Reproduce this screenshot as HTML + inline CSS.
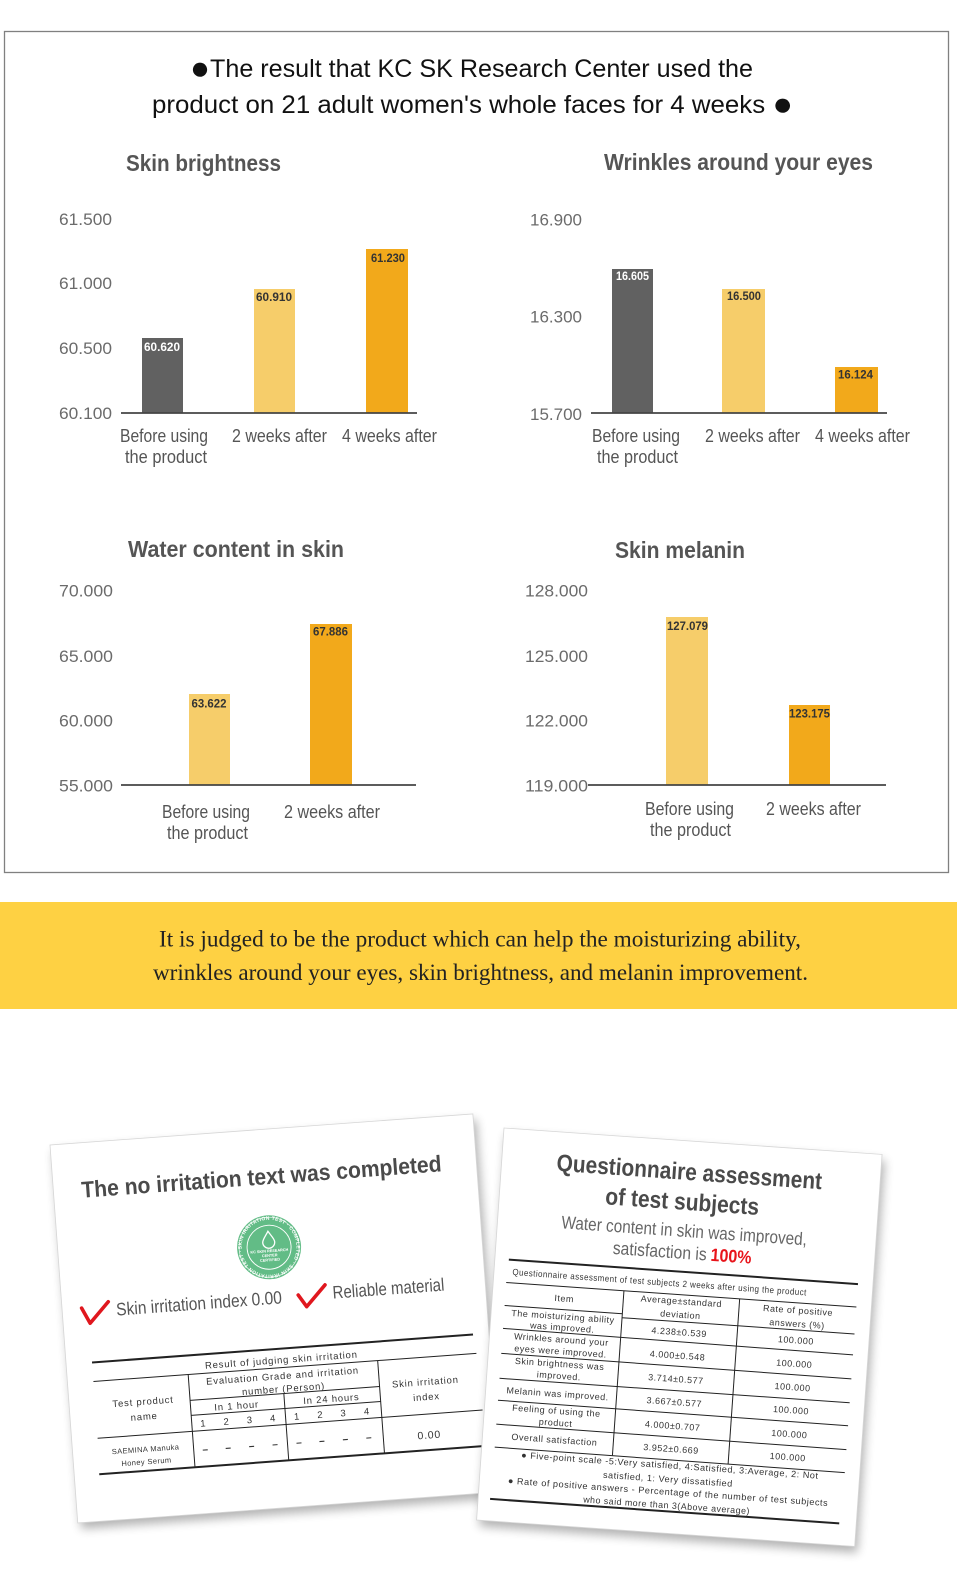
<!DOCTYPE html>
<html>
<head>
<meta charset="utf-8">
<style>
html,body{margin:0;padding:0;background:#fff;}
svg{display:block;}
.s{font-family:"Liberation Sans","NanumGothic",sans-serif;}
.r{font-family:"Liberation Serif","Noto Serif CJK SC",serif;}
</style>
</head>
<body>
<svg width="957" height="1585" viewBox="0 0 957 1585" xmlns="http://www.w3.org/2000/svg">
<defs>
  <filter id="sh" x="-10%" y="-10%" width="125%" height="125%">
    <feGaussianBlur stdDeviation="5"/>
  </filter>
  <path id="sealArc" d="M -27.5 0 A 27.5 27.5 0 1 1 27.5 0 A 27.5 27.5 0 1 1 -27.5 0"/>
</defs>

<rect x="0" y="0" width="957" height="1585" fill="#fff"/>

<!-- outer box -->
<rect x="4.5" y="31.5" width="944" height="841" fill="none" stroke="#808080" stroke-width="1.3"/>

<!-- main title -->
<g class="s" fill="#111" font-size="25">
  <text x="190" y="77" textLength="563" lengthAdjust="spacingAndGlyphs"><tspan font-size="33" dy="2">●</tspan><tspan dy="-2">The result that KC SK Research Center used the</tspan></text>
  <text x="152" y="113" textLength="641" lengthAdjust="spacingAndGlyphs">product on 21 adult women's whole faces for 4 weeks <tspan font-size="33" dy="2">●</tspan></text>
</g>

<!-- ============ Chart 1: Skin brightness ============ -->
<g class="s">
  <text x="126" y="171" font-size="23" font-weight="bold" fill="#555" textLength="155" lengthAdjust="spacingAndGlyphs">Skin brightness</text>
  <g font-size="17" fill="#6b6b6b" text-anchor="end">
    <text x="112" y="225" textLength="53" lengthAdjust="spacingAndGlyphs">61.500</text>
    <text x="112" y="289" textLength="53" lengthAdjust="spacingAndGlyphs">61.000</text>
    <text x="112" y="354" textLength="53" lengthAdjust="spacingAndGlyphs">60.500</text>
    <text x="112" y="419" textLength="53" lengthAdjust="spacingAndGlyphs">60.100</text>
  </g>
  <rect x="142" y="338" width="41" height="75" fill="#616161"/>
  <rect x="254" y="289" width="41" height="124" fill="#F6CD6A"/>
  <rect x="366" y="249" width="42" height="164" fill="#F2A91B"/>
  <line x1="121" y1="413" x2="417" y2="413" stroke="#444" stroke-width="1.8"/>
  <g font-size="11.5" font-weight="bold" text-anchor="middle">
    <text x="162" y="351" fill="#fff" textLength="36" lengthAdjust="spacingAndGlyphs">60.620</text>
    <text x="274" y="301" fill="#333" textLength="36" lengthAdjust="spacingAndGlyphs">60.910</text>
    <text x="388" y="262" fill="#333" textLength="34" lengthAdjust="spacingAndGlyphs">61.230</text>
  </g>
  <g font-size="18" fill="#555" text-anchor="middle">
    <text x="164" y="442" textLength="88" lengthAdjust="spacingAndGlyphs">Before using</text>
    <text x="166" y="463" textLength="82" lengthAdjust="spacingAndGlyphs">the product</text>
    <text x="279.5" y="442" textLength="95" lengthAdjust="spacingAndGlyphs">2 weeks after</text>
    <text x="389.5" y="442" textLength="95" lengthAdjust="spacingAndGlyphs">4 weeks after</text>
  </g>
</g>

<!-- ============ Chart 2: Wrinkles ============ -->
<g class="s">
  <text x="604" y="170" font-size="23" font-weight="bold" fill="#555" textLength="269" lengthAdjust="spacingAndGlyphs">Wrinkles around your eyes</text>
  <g font-size="17" fill="#6b6b6b" text-anchor="end">
    <text x="582" y="225.5" textLength="52" lengthAdjust="spacingAndGlyphs">16.900</text>
    <text x="582" y="322.5" textLength="52" lengthAdjust="spacingAndGlyphs">16.300</text>
    <text x="582" y="420" textLength="52" lengthAdjust="spacingAndGlyphs">15.700</text>
  </g>
  <rect x="612" y="269" width="41" height="144" fill="#616161"/>
  <rect x="722" y="289" width="43" height="124" fill="#F6CD6A"/>
  <rect x="835" y="367" width="43" height="46" fill="#F2A91B"/>
  <line x1="591" y1="413" x2="887" y2="413" stroke="#444" stroke-width="1.8"/>
  <g font-size="11.5" font-weight="bold" text-anchor="middle">
    <text x="632.5" y="280" fill="#fff" textLength="33" lengthAdjust="spacingAndGlyphs">16.605</text>
    <text x="744" y="300" fill="#333" textLength="34" lengthAdjust="spacingAndGlyphs">16.500</text>
    <text x="855.5" y="378.5" fill="#333" textLength="35" lengthAdjust="spacingAndGlyphs">16.124</text>
  </g>
  <g font-size="18" fill="#555" text-anchor="middle">
    <text x="636" y="442" textLength="88" lengthAdjust="spacingAndGlyphs">Before using</text>
    <text x="637.5" y="463" textLength="81" lengthAdjust="spacingAndGlyphs">the product</text>
    <text x="752.5" y="442" textLength="95" lengthAdjust="spacingAndGlyphs">2 weeks after</text>
    <text x="862.5" y="442" textLength="95" lengthAdjust="spacingAndGlyphs">4 weeks after</text>
  </g>
</g>

<!-- ============ Chart 3: Water content ============ -->
<g class="s">
  <text x="128" y="557" font-size="23" font-weight="bold" fill="#555" textLength="216" lengthAdjust="spacingAndGlyphs">Water content in skin</text>
  <g font-size="17" fill="#6b6b6b" text-anchor="end">
    <text x="113" y="596.5" textLength="54" lengthAdjust="spacingAndGlyphs">70.000</text>
    <text x="113" y="662" textLength="54" lengthAdjust="spacingAndGlyphs">65.000</text>
    <text x="113" y="726.5" textLength="54" lengthAdjust="spacingAndGlyphs">60.000</text>
    <text x="113" y="791.5" textLength="54" lengthAdjust="spacingAndGlyphs">55.000</text>
  </g>
  <rect x="189" y="694" width="41" height="91" fill="#F6CD6A"/>
  <rect x="310" y="624" width="42" height="161" fill="#F2A91B"/>
  <line x1="121" y1="785" x2="416" y2="785" stroke="#444" stroke-width="1.8"/>
  <g font-size="11.5" font-weight="bold" text-anchor="middle" fill="#333">
    <text x="209" y="707.5" textLength="35" lengthAdjust="spacingAndGlyphs">63.622</text>
    <text x="330.5" y="635.5" textLength="35" lengthAdjust="spacingAndGlyphs">67.886</text>
  </g>
  <g font-size="18" fill="#555" text-anchor="middle">
    <text x="206" y="818" textLength="88" lengthAdjust="spacingAndGlyphs">Before using</text>
    <text x="207.5" y="839" textLength="81" lengthAdjust="spacingAndGlyphs">the product</text>
    <text x="332" y="818" textLength="96" lengthAdjust="spacingAndGlyphs">2 weeks after</text>
  </g>
</g>

<!-- ============ Chart 4: Skin melanin ============ -->
<g class="s">
  <text x="615" y="558" font-size="23" font-weight="bold" fill="#555" textLength="130" lengthAdjust="spacingAndGlyphs">Skin melanin</text>
  <g font-size="17" fill="#6b6b6b" text-anchor="end">
    <text x="588" y="596.5" textLength="63" lengthAdjust="spacingAndGlyphs">128.000</text>
    <text x="588" y="662" textLength="63" lengthAdjust="spacingAndGlyphs">125.000</text>
    <text x="588" y="726.5" textLength="63" lengthAdjust="spacingAndGlyphs">122.000</text>
    <text x="588" y="791.5" textLength="63" lengthAdjust="spacingAndGlyphs">119.000</text>
  </g>
  <rect x="666" y="617" width="42" height="168" fill="#F6CD6A"/>
  <rect x="789" y="705" width="41" height="80" fill="#F2A91B"/>
  <line x1="588" y1="785" x2="886" y2="785" stroke="#444" stroke-width="1.8"/>
  <g font-size="11.5" font-weight="bold" text-anchor="middle" fill="#333">
    <text x="687.5" y="630" textLength="41" lengthAdjust="spacingAndGlyphs">127.079</text>
    <text x="809.5" y="717.5" textLength="41" lengthAdjust="spacingAndGlyphs">123.175</text>
  </g>
  <g font-size="18" fill="#555" text-anchor="middle">
    <text x="689.5" y="815" textLength="89" lengthAdjust="spacingAndGlyphs">Before using</text>
    <text x="690.5" y="836" textLength="81" lengthAdjust="spacingAndGlyphs">the product</text>
    <text x="813.5" y="815" textLength="95" lengthAdjust="spacingAndGlyphs">2 weeks after</text>
  </g>
</g>

<!-- ============ Yellow band ============ -->
<rect x="0" y="902" width="957" height="107" fill="#FED143"/>
<g class="r" font-size="23" fill="#222">
  <text x="159" y="946.5" textLength="642" lengthAdjust="spacingAndGlyphs">It is judged to be the product which can help the moisturizing ability,</text>
  <text x="153" y="980" textLength="655" lengthAdjust="spacingAndGlyphs">wrinkles around your eyes, skin brightness, and melanin improvement.</text>
</g>

<!-- ============ Left document ============ -->
<g transform="translate(50,1145) rotate(-4.2)">
  <rect x="3" y="6" width="424" height="379" fill="#000" opacity="0.3" filter="url(#sh)"/>
  <rect x="0" y="0" width="424" height="379" fill="#fff" stroke="#d6d6d6" stroke-width="0.8"/>
  <g class="s">
    <text x="28" y="55" font-size="23" font-weight="bold" fill="#4a4a4a" textLength="361" lengthAdjust="spacingAndGlyphs">The no irritation text was completed</text>

    <!-- seal -->
    <g transform="translate(211,118)">
      <circle r="32" fill="#62BC86"/>
      <circle r="30" fill="none" stroke="#fff" stroke-width="0.8" opacity="0.8"/>
      <circle r="22" fill="none" stroke="#fff" stroke-width="0.9"/>
      <text font-size="5" fill="#fff" font-weight="bold" letter-spacing="0.3"><textPath href="#sealArc">SKIN IRRITATION TEST · COMPLETED · SKIN IRRITATION TEST · COMPLETED ·</textPath></text>
      <path d="M0,-16 C-3,-11 -6,-8 -6,-5 A6,6 0 0 0 6,-5 C6,-8 3,-11 0,-16 Z" fill="none" stroke="#fff" stroke-width="1.3"/>
      <text y="5" font-size="3.8" fill="#fff" text-anchor="middle" font-weight="bold">KC SKIN RESEARCH</text>
      <text y="9.5" font-size="3.8" fill="#fff" text-anchor="middle" font-weight="bold">CENTER</text>
      <text y="14" font-size="3.8" fill="#fff" text-anchor="middle" font-weight="bold">CERTIFIED</text>
    </g>

    <!-- checks -->
    <path d="M19.6,165 L27,180.7 L46.6,160.6" fill="none" stroke="#E0171E" stroke-width="3.6" stroke-linejoin="round" stroke-linecap="round"/>
    <path d="M236.6,167.8 L244.2,180 L264,159.7" fill="none" stroke="#E0171E" stroke-width="3.6" stroke-linejoin="round" stroke-linecap="round"/>
    <text x="54" y="175" font-size="18" fill="#555" textLength="166" lengthAdjust="spacingAndGlyphs">Skin irritation index 0.00</text>
    <text x="271" y="174" font-size="18" fill="#555" textLength="112" lengthAdjust="spacingAndGlyphs">Reliable material</text>

    <!-- table -->
    <g stroke="#222" fill="none">
      <line x1="26" y1="220" x2="408" y2="220" stroke-width="2"/>
      <line x1="26" y1="239" x2="410" y2="239" stroke-width="1"/>
      <line x1="121" y1="265" x2="311" y2="265" stroke-width="1"/>
      <line x1="121" y1="280" x2="311" y2="280" stroke-width="1"/>
      <line x1="26" y1="296" x2="412" y2="296" stroke-width="1"/>
      <line x1="25" y1="332" x2="413" y2="332" stroke-width="2"/>
      <line x1="121" y1="239" x2="121" y2="332" stroke-width="1"/>
      <line x1="311" y1="239" x2="311" y2="332" stroke-width="1"/>
      <line x1="215" y1="265" x2="215" y2="332" stroke-width="1"/>
    </g>
    <g font-size="9.5" fill="#333" text-anchor="middle" letter-spacing="0.8">
      <text x="215" y="234.5">Result of judging skin irritation</text>
      <text x="215" y="250.5">Evaluation Grade and irritation</text>
      <text x="215" y="263.5">number (Person)</text>
      <text x="167" y="277">In 1 hour</text>
      <text x="262" y="277">In 24 hours</text>
      <text x="132.5" y="292">1</text><text x="155.8" y="292">2</text><text x="179.1" y="292">3</text><text x="202.4" y="292">4</text>
      <text x="226.5" y="292">1</text><text x="249.8" y="292">2</text><text x="273" y="292">3</text><text x="296.6" y="292">4</text>
      <text x="74" y="266">Test product</text>
      <text x="74" y="281">name</text>
      <text x="357" y="267">Skin irritation</text>
      <text x="357" y="282">index</text>
      <text x="357" y="320.5" font-size="10.5">0.00</text>
      <text x="73" y="313" font-size="7.5" letter-spacing="0.4">SAEMINA Manuka</text>
      <text x="73" y="325.5" font-size="7.5" letter-spacing="0.4">Honey Serum</text>
    </g>
    <g stroke="#333" stroke-width="1.1">
      <line x1="130" y1="315.5" x2="135" y2="315.5"/><line x1="153" y1="315.5" x2="158" y2="315.5"/>
      <line x1="176.5" y1="315.5" x2="181.5" y2="315.5"/><line x1="200" y1="315.5" x2="205" y2="315.5"/>
      <line x1="224" y1="315.5" x2="229" y2="315.5"/><line x1="247" y1="315.5" x2="252" y2="315.5"/>
      <line x1="270.5" y1="315.5" x2="275.5" y2="315.5"/><line x1="294" y1="315.5" x2="299" y2="315.5"/>
    </g>
  </g>
</g>

<!-- ============ Right document ============ -->
<g transform="translate(504,1128) rotate(4)">
  <rect x="3" y="6" width="379" height="393" fill="#000" opacity="0.3" filter="url(#sh)"/>
  <rect x="0" y="0" width="379" height="393" fill="#fff" stroke="#d6d6d6" stroke-width="0.8"/>
  <g class="s">
    <text x="55" y="39" font-size="24" font-weight="bold" fill="#4a4a4a" textLength="266" lengthAdjust="spacingAndGlyphs">Questionnaire assessment</text>
    <text x="106" y="69" font-size="24" font-weight="bold" fill="#4a4a4a" textLength="154" lengthAdjust="spacingAndGlyphs">of test subjects</text>
    <text x="64" y="96" font-size="18" fill="#666" textLength="246" lengthAdjust="spacingAndGlyphs">Water content in skin was improved,</text>
    <text x="117" y="118" font-size="18" fill="#666" textLength="94" lengthAdjust="spacingAndGlyphs">satisfaction is</text>
    <text x="215" y="118" font-size="18" font-weight="bold" fill="#E8141B" textLength="41" lengthAdjust="spacingAndGlyphs">100%</text>

    <g stroke="#222" fill="none">
      <line x1="14" y1="131" x2="364" y2="131" stroke-width="2"/>
      <line x1="13" y1="154" x2="364" y2="154" stroke-width="1"/>
      <line x1="13" y1="177" x2="131" y2="177" stroke-width="1"/>
      <line x1="131" y1="181" x2="364" y2="181" stroke-width="1"/>
      <line x1="13" y1="200" x2="364" y2="202" stroke-width="1"/>
      <line x1="13" y1="225" x2="364" y2="226" stroke-width="1"/>
      <line x1="13" y1="250" x2="364" y2="250" stroke-width="1"/>
      <line x1="13" y1="272" x2="364" y2="273" stroke-width="1"/>
      <line x1="13" y1="296" x2="364" y2="297" stroke-width="1"/>
      <line x1="13" y1="319" x2="364" y2="320" stroke-width="1"/>
      <line x1="131" y1="154" x2="131" y2="319" stroke-width="1"/>
      <line x1="247" y1="154" x2="247" y2="320" stroke-width="1"/>
      <line x1="12" y1="371" x2="362" y2="371" stroke-width="2"/>
    </g>
    <g font-size="9" fill="#333" text-anchor="middle" letter-spacing="0.5">
      <text x="166" y="146" textLength="295" lengthAdjust="spacingAndGlyphs">Questionnaire assessment of test subjects 2 weeks after using the product</text>
      <text x="72" y="169">Item</text>
      <text x="189" y="163.5">Average±standard</text>
      <text x="189" y="177">deviation</text>
      <text x="306" y="164.5">Rate of positive</text>
      <text x="306" y="178">answers (%)</text>

      <text x="72" y="187">The moisturizing ability</text>
      <text x="72" y="198">was improved.</text>
      <text x="72" y="210">Wrinkles around your</text>
      <text x="72" y="222">eyes were improved.</text>
      <text x="72" y="234.5">Skin brightness was</text>
      <text x="72" y="246.5">improved.</text>
      <text x="72" y="264.5">Melanin was improved.</text>
      <text x="72" y="281.5">Feeling of using the</text>
      <text x="72" y="293.5">product</text>
      <text x="72" y="310.5">Overall satisfaction</text>

      <text x="189" y="194.5">4.238±0.539</text>
      <text x="189" y="218">4.000±0.548</text>
      <text x="189" y="241.5">3.714±0.577</text>
      <text x="189" y="264.5">3.667±0.577</text>
      <text x="189" y="288.5">4.000±0.707</text>
      <text x="189" y="311.5">3.952±0.669</text>

      <text x="306" y="194.5">100.000</text>
      <text x="306" y="218">100.000</text>
      <text x="306" y="241.5">100.000</text>
      <text x="306" y="264.5">100.000</text>
      <text x="306" y="288.5">100.000</text>
      <text x="306" y="311.5">100.000</text>

      <text x="189" y="328" textLength="298" lengthAdjust="spacingAndGlyphs">● Five-point scale -5:Very satisfied, 4:Satisfied, 3:Average, 2: Not</text>
      <text x="188" y="342" textLength="130" lengthAdjust="spacingAndGlyphs">satisfied, 1: Very dissatisfied</text>
      <text x="189" y="354.5" textLength="321" lengthAdjust="spacingAndGlyphs">● Rate of positive answers - Percentage of the number of test subjects</text>
      <text x="188.5" y="368" textLength="167" lengthAdjust="spacingAndGlyphs">who said more than 3(Above average)</text>
    </g>
  </g>
</g>
</svg>
</body>
</html>
